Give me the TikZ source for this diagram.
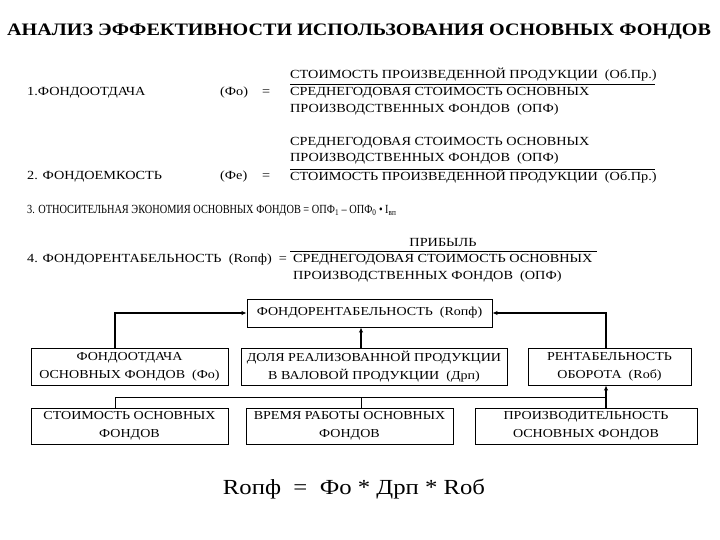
\documentclass[tikz,border=0pt]{standalone}
\usepackage{fontspec}
\setmainfont[FakeStretch=1.15]{Liberation Serif}
\usetikzlibrary{arrows.meta,calc}
\tikzset{
  txt/.style={inner sep=0pt, anchor=west, font=\fontsize{12.4}{14}\selectfont},
  ctxt/.style={inner sep=0pt, font=\fontsize{12.4}{14}\selectfont},
  box/.style={draw, line width=0.9pt, inner sep=0pt, align=center, font=\fontsize{12.2}{18}\selectfont},
  frule/.style={line width=0.8pt},
  thk/.style={line width=1.6pt, -{Latex[length=5pt,width=4.5pt]}},
  thn/.style={line width=0.9pt}
}
\begin{document}
\begin{tikzpicture}[x=1pt,y=-1pt]
\useasboundingbox (0,0) rectangle (720,540);
% title
\node[inner sep=0pt, anchor=west, font=\fontsize{17.5}{19}\bfseries\selectfont] (title) at (7,32) {АНАЛИЗ ЭФФЕКТИВНОСТИ ИСПОЛЬЗОВАНИЯ ОСНОВНЫХ ФОНДОВ};
% row 1
\node[txt] (l1) at (27,93) {1.ФОНДООТДАЧА};
\node[txt] (f1) at (220,93) {(Фо)};
\node[txt] (e1) at (262,93) {=};
\node[txt] (n1) at (290,75) {СТОИМОСТЬ ПРОИЗВЕДЕННОЙ ПРОДУКЦИИ\ \ (Об.Пр.)};
\draw[frule] (290,84) -- (655,84);
\node[txt] (d1a) at (290,93) {СРЕДНЕГОДОВАЯ СТОИМОСТЬ ОСНОВНЫХ};
\node[txt] (d1b) at (290,110) {ПРОИЗВОДСТВЕННЫХ ФОНДОВ\ \ (ОПФ)};
% row 2
\node[txt] (l2) at (27,177) {2. ФОНДОЕМКОСТЬ};
\node[txt] (f2) at (220,177) {(Фе)};
\node[txt] (e2) at (262,177) {=};
\node[txt] (n2a) at (290,143) {СРЕДНЕГОДОВАЯ СТОИМОСТЬ ОСНОВНЫХ};
\node[txt] (n2b) at (290,159) {ПРОИЗВОДСТВЕННЫХ ФОНДОВ\ \ (ОПФ)};
\draw[frule] (290,169) -- (655,169);
\node[txt] (d2) at (290,177) {СТОИМОСТЬ ПРОИЗВЕДЕННОЙ ПРОДУКЦИИ\ \ (Об.Пр.)};
% row 3
\node[txt] (l3) at (27,211) {\scalebox{0.725}[1]{3. ОТНОСИТЕЛЬНАЯ ЭКОНОМИЯ ОСНОВНЫХ ФОНДОВ\ =\ ОПФ\textsubscript{1} – ОПФ\textsubscript{0} • I\textsubscript{вп}}};
% row 4
\node[txt] (l4) at (27,260) {4. ФОНДОРЕНТАБЕЛЬНОСТЬ\ \ (Rопф)\ \ =};
\node[ctxt] (n4) at (443,243) {ПРИБЫЛЬ};
\draw[frule] (290,251) -- (597,251);
\node[txt] (d4a) at (293,260) {СРЕДНЕГОДОВАЯ СТОИМОСТЬ ОСНОВНЫХ};
\node[txt] (d4b) at (293,277) {ПРОИЗВОДСТВЕННЫХ ФОНДОВ\ \ (ОПФ)};
% boxes
\node[box, minimum width=245pt, minimum height=28pt] (top) at (369.5,313) {ФОНДОРЕНТАБЕЛЬНОСТЬ\ \ (Rопф)};
\node[box, minimum width=197pt, minimum height=37pt] (lm) at (129.5,366.5) {ФОНДООТДАЧА\\ОСНОВНЫХ ФОНДОВ\ \ (Фо)};
\node[box, minimum width=266pt, minimum height=37pt] (mm) at (374,366.5) {ДОЛЯ РЕАЛИЗОВАННОЙ ПРОДУКЦИИ\\В ВАЛОВОЙ ПРОДУКЦИИ\ \ (Дрп)};
\node[box, minimum width=163pt, minimum height=37pt] (rm) at (609.5,366.5) {РЕНТАБЕЛЬНОСТЬ\\ОБОРОТА\ \ (Rоб)};
\node[box, minimum width=197pt, minimum height=36pt] (bl) at (129.5,426) {СТОИМОСТЬ ОСНОВНЫХ\\ФОНДОВ};
\node[box, minimum width=207pt, minimum height=36pt] (bm) at (349.5,426) {ВРЕМЯ РАБОТЫ ОСНОВНЫХ\\ФОНДОВ};
\node[box, minimum width=222pt, minimum height=36pt] (br) at (586,426) {ПРОИЗВОДИТЕЛЬНОСТЬ\\ОСНОВНЫХ ФОНДОВ};
% guide coordinates
\coordinate (lx) at (115,0);
\coordinate (mx) at (361,0);
\coordinate (rx) at (606,0);
\coordinate (hy) at (0,397);
% connectors
\draw[thk] (lm.north -| lx) |- (top.west);
\draw[thk] (rm.north -| rx) |- (top.east);
\draw[thk] (mm.north -| mx) -- (top.south -| mx);
\draw[thn] (bl.north -| lx) -- (lx |- hy) -- (rx |- hy);
\draw[thn] (bm.north -| mx) -- (mx |- hy);
\draw[thk] (br.north -| rx) -- (rm.south -| rx);
% formula
\node[inner sep=0pt, font=\fontsize{21.5}{24}\selectfont] (formula) at (354,489) {Rопф\ \ =\ \ Фо * Дрп * Rоб};
\end{tikzpicture}
\end{document}
